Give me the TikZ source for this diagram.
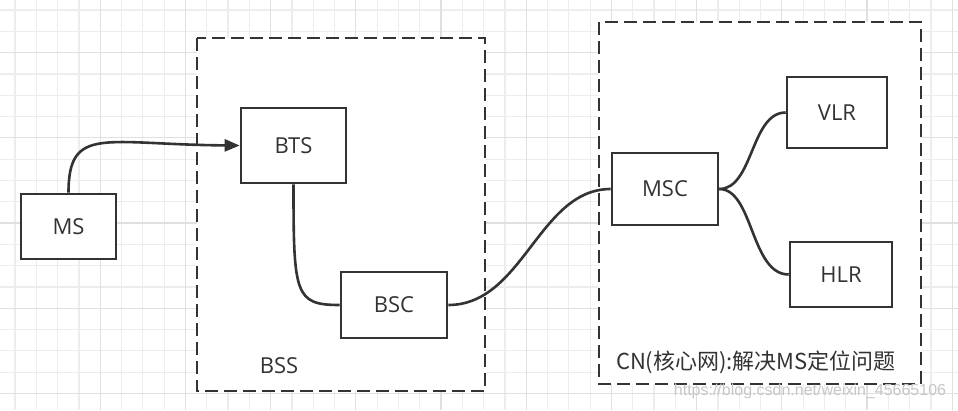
\documentclass[tikz,border=0pt]{standalone}
\usepackage{fontspec}
\setmainfont{Open Sans}
\newfontfamily\cjk{Noto Sans CJK SC}
\newfontfamily\wmfont{Liberation Sans}
\usetikzlibrary{arrows.meta}
\definecolor{ink}{HTML}{333333}
\definecolor{gridminor}{HTML}{EDEDED}
\definecolor{gridmajor}{HTML}{E0E0E0}
\tikzset{
  box/.style={draw=ink, line width=2.6pt, rectangle, fill=white, inner sep=0pt,
    text=ink, font=\fontsize{22}{26}\selectfont},
  group/.style={draw=ink, line width=2.8pt, dash pattern=on 13pt off 6pt},
  link/.style={draw=ink, line width=2.6pt},
  lbl/.style={text=ink, font=\fontsize{22}{26}\selectfont, inner sep=0pt},
}
\begin{document}
\begin{tikzpicture}[x=1pt,y=-1pt]
\useasboundingbox (0,0) rectangle (958,410);
\fill[white] (0,0) rectangle (958,410);
% grid
\begin{scope}
\clip (0,0) rectangle (958,410);
\foreach \i in {0,...,44} {\draw[gridminor, line width=1.2pt] ({15+\i*21.3},0) -- ({15+\i*21.3},410);}
\foreach \i in {0,...,19} {\draw[gridminor, line width=1.2pt] (0,{10+\i*21.3}) -- (958,{10+\i*21.3});}
\foreach \i in {0,...,10} {\draw[gridmajor, line width=1.2pt] ({100.2+\i*85.2},0) -- ({100.2+\i*85.2},410);}
\foreach \i in {0,...,4} {\draw[gridmajor, line width=1.2pt] (0,{52.6+\i*85.2}) -- (958,{52.6+\i*85.2});}
\end{scope}
% groups
\draw[group, fill=white] (197,38) rectangle (485,391);
\draw[group, fill=white] (599,22) rectangle (921,384);
\node[lbl] (bsslbl) at (279,366) {BSS};
\node[lbl] (cnlbl) at (756,362) {\cjk CN(核心网):解决MS定位问题};
% nodes
\node[box, minimum width=95pt, minimum height=65pt] (MS) at (68.5,226.5) {MS};
\node[box, minimum width=105pt, minimum height=75pt] (BTS) at (293.5,145.5) {BTS};
\node[box, minimum width=106pt, minimum height=66pt] (BSC) at (394,305) {BSC};
\node[box, minimum width=106pt, minimum height=72pt] (MSC) at (665,189) {MSC};
\node[box, minimum width=100pt, minimum height=71pt] (VLR) at (837,112.5) {VLR};
\node[box, minimum width=102pt, minimum height=65pt] (HLR) at (841,274.5) {HLR};
% links
\draw[link, -{Triangle[length=15pt,width=12pt]}] (MS.north) .. controls +(0,-68) and +(-135,-1) .. (BTS.west);
\draw[link] (BTS.south) .. controls +(0,110) and +(-45,0) .. (BSC.west);
\draw[link] (BSC.east) .. controls +(75,0) and +(-72,0) .. (MSC.west);
\draw[link] (MSC.east) .. controls +(34,0) and +(-35,0) .. (VLR.west);
\draw[link] (MSC.east) .. controls +(34,0) and +(-38,0) .. (HLR.west);
% watermark
\node[text=black!22, font=\wmfont\fontsize{16}{18}\selectfont, inner sep=0pt] (wm) at (810,391) {https://blog.csdn.net/weixin\_45665106};
\end{tikzpicture}
\end{document}
